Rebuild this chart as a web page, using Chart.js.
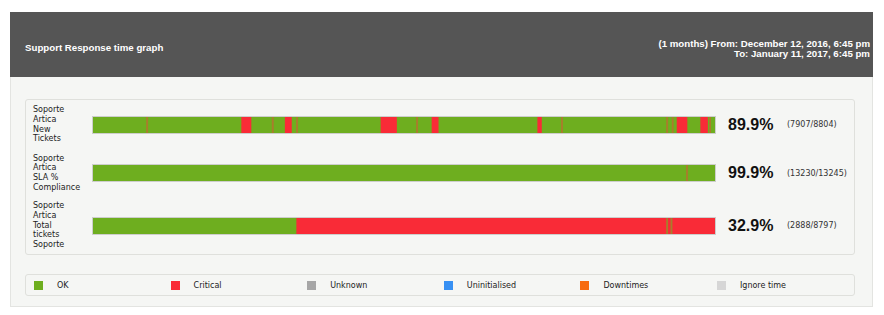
<!DOCTYPE html>
<html>
<head>
<meta charset="utf-8">
<script src="https://cdn.jsdelivr.net/npm/chart.js@4/dist/chart.umd.min.js"></script>
<style>
  body { margin: 0; width: 884px; height: 315px; background: #fff; font-family: "DejaVu Sans", Verdana, sans-serif; overflow: hidden; }
  #wrap { position: absolute; left: 10px; top: 12px; width: 863px; }
  #head { position: relative; height: 65px; background: #555555; color: #fff; font-family: "Liberation Sans", Arial, sans-serif; font-weight: bold; font-size: 9.7px; }
  #title { position: absolute; left: 15px; top: 30px; line-height: 12px; }
  #period { position: absolute; right: 3px; top: 27px; line-height: 10px; text-align: right; }
  #panel { position: relative; height: 229px; background: #f5f6f4; border: 1px solid #e3e4e1; border-top: none; }
  #box { position: absolute; left: 14px; top: 22px; width: 828px; height: 154px; border: 1px solid #dfe0dc; border-radius: 3px; }
  .row { display: flex; align-items: center; }
  .lbl { width: 60px; padding-left: 7px; font-size: 8px; line-height: 9.7px; color: #222; }
  .bar { width: 622px; height: 16px; position: relative; }
  .bar canvas { display: block; box-shadow: 0 0 0 1px rgba(0,0,0,0.16); }
  .pct { margin-left: 13px; width: 59px; font-family: "Liberation Sans", Arial, sans-serif; font-weight: bold; font-size: 16px; color: #111; }
  .cnt { font-size: 8px; color: #333; }
  #legend { position: absolute; left: 14px; top: 197px; width: 828px; height: 20px; border: 1px solid #dfe0dc; border-radius: 3px; display: flex; align-items: center; }
  .li { width: 136.6px; display: flex; align-items: center; font-size: 8px; color: #222; }
  .sw { width: 9px; height: 9px; margin-left: 8px; margin-right: 14px; }
</style>
</head>
<body>
<div id="wrap">
  <div id="head">
    <div id="title"></div>
    <div id="period"></div>
  </div>
  <div id="panel">
    <div id="box"></div>
    <div id="legend"></div>
  </div>
</div>
<script>
const chartTitle = 'Support Response time graph';
const periodLines = ['(1 months) From: December 12, 2016, 6:45 pm', 'To: January 11, 2017, 6:45 pm'];

const rowLabels = [
  ['Soporte', 'Artica', 'New', 'Tickets'],
  ['Soporte', 'Artica', 'SLA %', 'Compliance'],
  ['Soporte', 'Artica', 'Total', 'tickets', 'Soporte']
];
const rowHeights = [49, 48, 57];
const rowPercents = ['89.9%', '99.9%', '32.9%'];
const rowCounts = ['(7907/8804)', '(13230/13245)', '(2888/8797)'];

// [start, end, state] as % of the period, first one is the base
const newTicketsSegments = [
  [0, 100, 'OK'],
  [8.6, 8.8, 'Mark'], [23.9, 25.4, 'Critical'], [28.8, 29.0, 'Mark'],
  [30.9, 31.9, 'Critical'], [32.7, 32.9, 'Mark'], [46.3, 48.8, 'Critical'],
  [52.0, 52.2, 'Mark'], [54.5, 55.5, 'Critical'], [71.5, 72.1, 'Critical'],
  [75.3, 75.5, 'Mark'], [92.2, 92.4, 'Mark'], [93.1, 93.3, 'Mark'],
  [93.9, 95.5, 'Critical'], [97.7, 98.8, 'Critical'], [99.1, 99.3, 'Mark']
];
const slaSegments = [
  [0, 100, 'OK'],
  [95.4, 95.6, 'Mark']
];
const totalSegments = [
  [0, 32.75, 'OK'],
  [32.75, 100, 'Critical'],
  [92.2, 92.4, 'Mark'], [92.9, 93.1, 'Mark']
];
const rowSegments = [newTicketsSegments, slaSegments, totalSegments];

const stateColors = {
  'OK': '#6eae1f',
  'Critical': '#f92b37',
  'Mark': '#a97d2c'
};

const legendStates = ['OK', 'Critical', 'Unknown', 'Uninitialised', 'Downtimes', 'Ignore time'];
const legendColors = ['#6eae1f', '#f92b37', '#a6a6a6', '#3790f3', '#f76b10', '#d6d6d6'];

document.getElementById('title').textContent = chartTitle;
document.getElementById('period').innerHTML = periodLines.join('<br>');

var box = document.getElementById('box');
for (var r = 0; r < rowLabels.length; r++) {
  var row = document.createElement('div');
  row.className = 'row';
  row.style.height = rowHeights[r] + 'px';
  var lbl = document.createElement('div');
  lbl.className = 'lbl';
  lbl.innerHTML = rowLabels[r].join('<br>');
  var bar = document.createElement('div');
  bar.className = 'bar';
  var cv = document.createElement('canvas');
  cv.width = 622; cv.height = 16;
  bar.appendChild(cv);
  var pct = document.createElement('div');
  pct.className = 'pct';
  pct.textContent = rowPercents[r];
  var cnt = document.createElement('div');
  cnt.className = 'cnt';
  cnt.textContent = rowCounts[r];
  row.appendChild(lbl); row.appendChild(bar); row.appendChild(pct); row.appendChild(cnt);
  box.appendChild(row);

  var segs = rowSegments[r];
  new Chart(cv, {
    type: 'bar',
    data: {
      labels: [''],
      datasets: segs.map(function(s, i) {
        return {
          data: [[s[0], s[1]]],
          backgroundColor: stateColors[s[2]],
          borderWidth: 0,
          grouped: false,
          barPercentage: 1,
          categoryPercentage: 1,
          order: segs.length - i
        };
      })
    },
    options: {
      indexAxis: 'y',
      responsive: false,
      animation: false,
      layout: { padding: 0 },
      plugins: { legend: { display: false }, tooltip: { enabled: false } },
      scales: {
        x: { display: false, min: 0, max: 100 },
        y: { display: false }
      }
    }
  });
}

var legend = document.getElementById('legend');
for (var i = 0; i < legendStates.length; i++) {
  var li = document.createElement('div');
  li.className = 'li';
  li.innerHTML = '<span class="sw" style="background:' + legendColors[i] + '"></span>' + legendStates[i];
  legend.appendChild(li);
}
</script>
</body>
</html>
